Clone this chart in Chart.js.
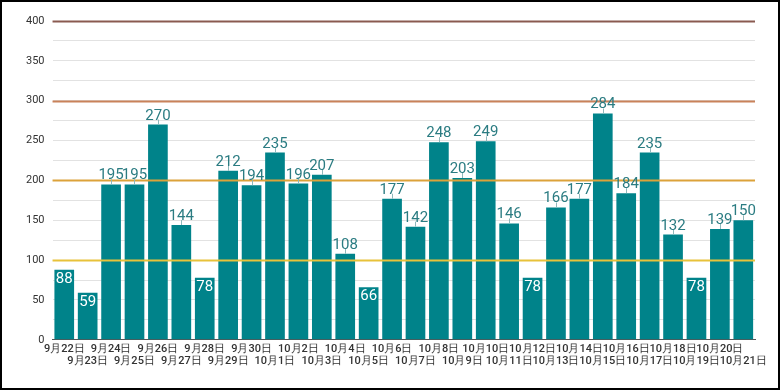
<!DOCTYPE html>
<html>
<head>
<meta charset="utf-8">
<script src="https://cdn.jsdelivr.net/npm/chart.js@4"></script>
<style>
  html, body { margin: 0; padding: 0; background: #fff; }
  #wrap { width: 780px; height: 390px; box-sizing: border-box; border: 2px solid #000; }
  canvas { display: block; }
</style>
</head>
<body>
<div id="wrap"><canvas id="bar-chart" width="776" height="386"></canvas></div>
<script>
const days = ['9月22日','9月23日','9月24日','9月25日','9月26日','9月27日','9月28日','9月29日','9月30日',
    '10月1日','10月2日','10月3日','10月4日','10月5日','10月6日','10月7日','10月8日','10月9日','10月10日',
    '10月11日','10月12日','10月13日','10月14日','10月15日','10月16日','10月17日','10月18日','10月19日',
    '10月20日','10月21日'];
const counts = [88, 59, 195, 195, 270, 144, 78, 212, 194, 235, 196, 207, 108, 66, 177, 142,
    248, 203, 249, 146, 78, 166, 177, 284, 184, 235, 132, 78, 139, 150];
const ref_values = [100, 200, 300, 400];
const ref_colors = ['#e8c23a', '#dca23a', '#c9825a', '#8a5a50'];

const bar_color = '#00838a';
const label_color = '#2b7c82';

// reference lines drawn on top of the bars
const ref_lines = {
    id: 'ref_lines',
    afterDatasetsDraw(chart) {
        const ctx = chart.ctx;
        const area = chart.chartArea;
        const y = chart.scales.y;
        ctx.save();
        ref_values.forEach((v, i) => {
            const py = Math.round(y.getPixelForValue(v)) + 0.5;
            ctx.strokeStyle = ref_colors[i];
            ctx.lineWidth = 2;
            ctx.beginPath();
            ctx.moveTo(area.left, py);
            ctx.lineTo(area.right, py);
            ctx.stroke();
        });
        ctx.restore();
    }
};

// value labels: inside the bar for short bars, above with a small leader for the rest
const value_labels = {
    id: 'value_labels',
    afterDraw(chart) {
        const ctx = chart.ctx;
        const meta = chart.getDatasetMeta(0);
        ctx.save();
        ctx.font = '15px Roboto';
        ctx.textAlign = 'center';
        meta.data.forEach((bar, i) => {
            const v = counts[i];
            if (v < 100) {
                ctx.fillStyle = '#ffffff';
                ctx.textBaseline = 'top';
                ctx.fillText(v, bar.x, bar.y + 2);
            } else {
                ctx.strokeStyle = '#8fb8bb';
                ctx.lineWidth = 1;
                ctx.beginPath();
                ctx.moveTo(Math.round(bar.x) + 0.5, bar.y);
                ctx.lineTo(Math.round(bar.x) + 0.5, bar.y - 5);
                ctx.stroke();
                ctx.fillStyle = label_color;
                ctx.textBaseline = 'alphabetic';
                ctx.fillText(v, bar.x, bar.y - 5);
            }
        });
        ctx.restore();
    }
};

const chart = new Chart(document.getElementById('bar-chart'), {
    type: 'bar',
    data: {
        labels: days,
        datasets: [{
            data: counts,
            backgroundColor: bar_color,
            barPercentage: 0.84,
            categoryPercentage: 1.0
        }]
    },
    options: {
        responsive: false,
        animation: false,
        plugins: {
            legend: { display: false },
            tooltip: { enabled: false }
        },
        scales: {
            x: {
                grid: { display: false, drawTicks: false },
                border: { color: '#555', width: 1 },
                ticks: {
                    autoSkip: false,
                    maxRotation: 0,
                    padding: 3,
                    color: '#333',
                    font: { family: 'Roboto', size: 11, weight: '500', lineHeight: 1.1 },
                    callback: function (value, index) {
                        return index % 2 === 0 ? [days[index]] : ['', days[index]];
                    }
                }
            },
            y: {
                min: 0,
                max: 400,
                grid: { color: '#e2e2e2', drawTicks: false },
                border: { display: false },
                ticks: {
                    stepSize: 25,
                    padding: 8,
                    color: '#333',
                    font: { family: 'Roboto', size: 11 },
                    callback: function (value) {
                        return value % 50 === 0 ? value : '';
                    }
                }
            }
        },
        layout: {
            padding: { left: 16, right: 23, top: 19, bottom: 18 }
        }
    },
    plugins: [ref_lines, value_labels]
});
</script>
</body>
</html>
